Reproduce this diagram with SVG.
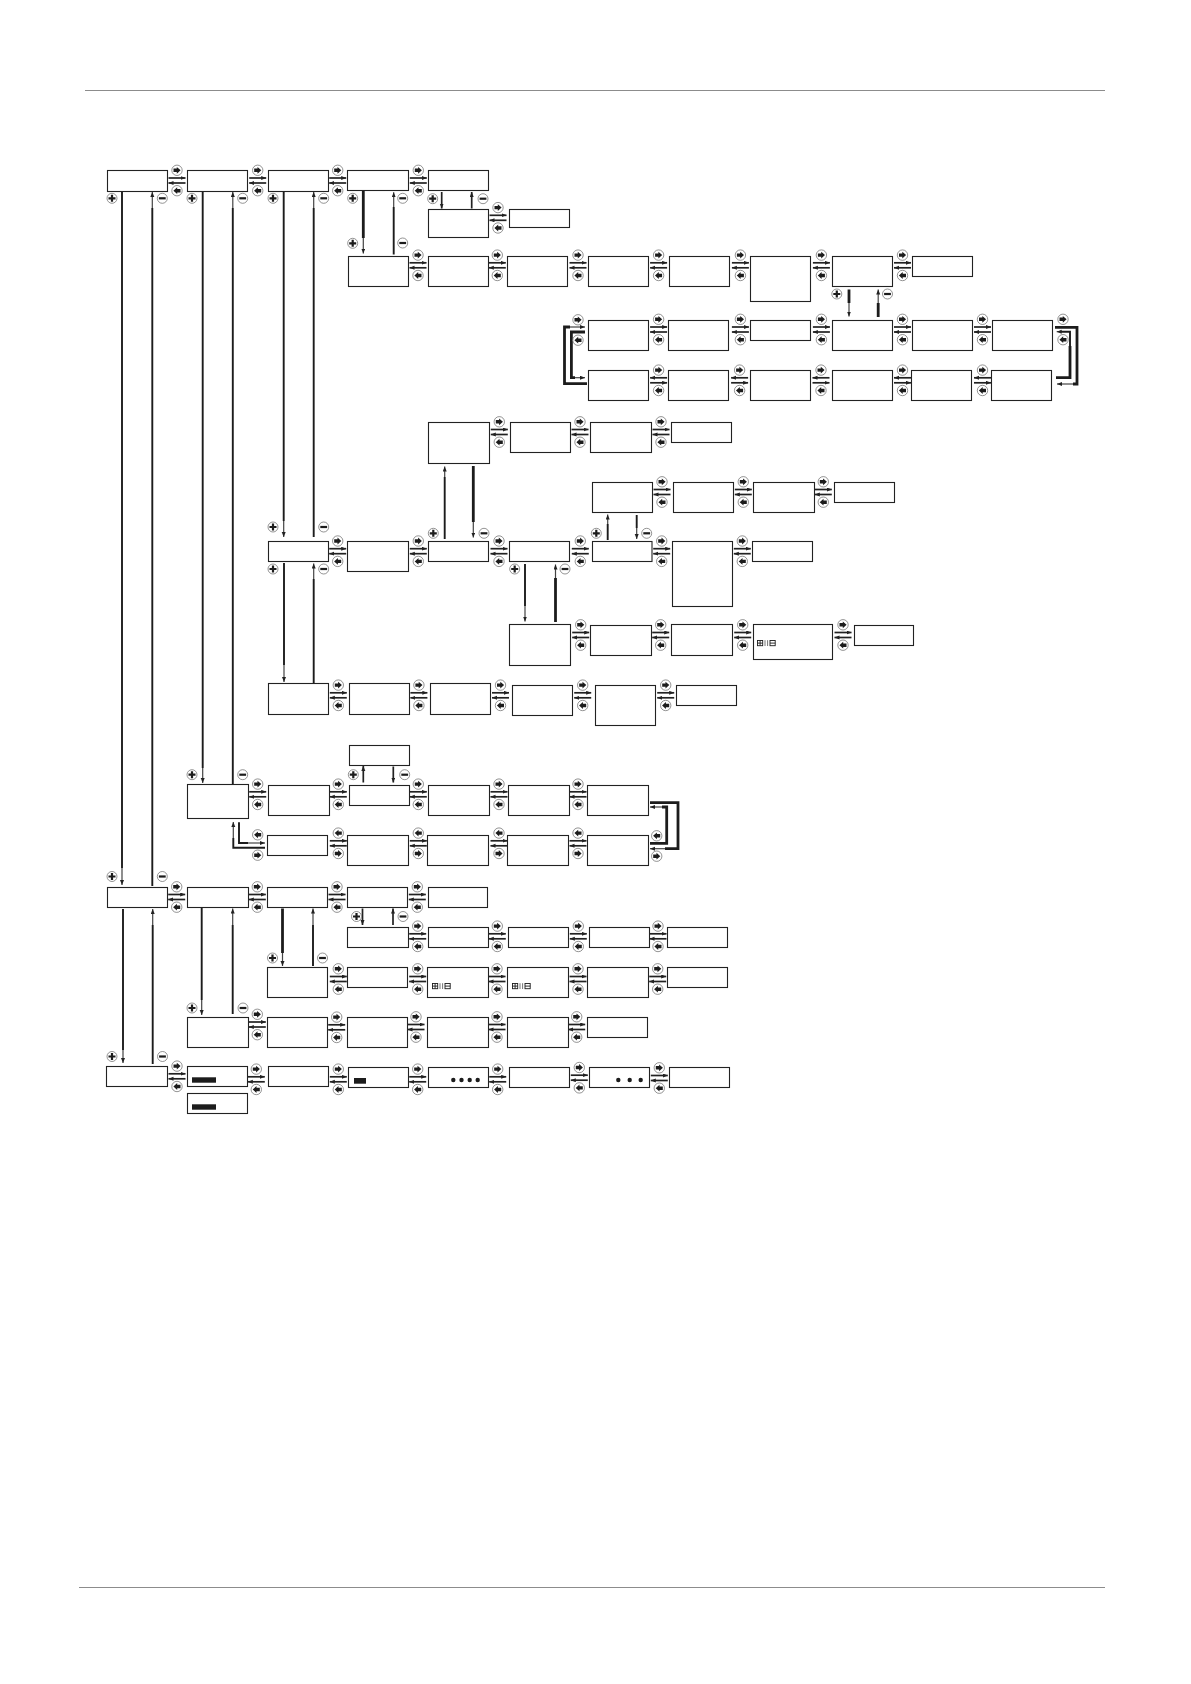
<svg xmlns="http://www.w3.org/2000/svg" width="1191" height="1684" viewBox="0 0 1191 1684">
<style>
.b{fill:#fff;stroke:#222;stroke-width:1.1}
.a{fill:none;stroke:#222;stroke-width:1.7;marker-end:url(#h)}
.k{fill:none;stroke:#1c1c1c;stroke-width:1.9}
.K{fill:none;stroke:#1c1c1c;stroke-width:2.8}
.t{fill:none;stroke:#444;stroke-width:1.2;marker-end:url(#h)}
.r{fill:#fff;stroke:#666;stroke-width:.7}
.i{fill:#1c1c1c;stroke:none}
.c{fill:none;stroke:#1c1c1c;stroke-width:.9}
.g{fill:none;stroke:#8c8c8c;stroke-width:1.2}
</style>
<defs>
<marker id="h" markerUnits="userSpaceOnUse" markerWidth="6" markerHeight="5" refX="5" refY="2" orient="auto"><path d="M0 0L5 2L0 4z" fill="#222"/></marker>
<g id="bR"><circle class="r" r="5.2"/><path class="i" d="M-3.5-1.7H-.2V-3.4L3.6 0L-.2 3.4V1.7H-3.5z"/></g>
<g id="bL"><circle class="r" r="5.2"/><path class="i" d="M3.5-1.7H.2V-3.4L-3.6 0L.2 3.4V1.7H3.5z"/></g>
<g id="plus"><circle class="r" r="5"/><path class="i" d="M-1.1-3.5H1.1V-1.1H3.5V1.1H1.1V3.5H-1.1V1.1H-3.5V-1.1H-1.1z"/></g>
<g id="minus"><circle class="r" r="5"/><rect class="i" x="-3.4" y="-1.1" width="6.8" height="2.2"/></g>
<g id="lf"><path class="a" d="M-8.5-2.5H8.5"/><path class="a" d="M8.5 2.5H-8.5"/></g>
<g id="ls"><path class="a" d="M8.5-2.5H-8.5"/><path class="a" d="M-8.5 2.5H8.5"/></g>
<g id="ic"><use href="#bR" y="-10.2"/><use href="#bL" y="10.2"/></g>
<g id="iv"><use href="#bL" y="-10.2"/><use href="#bR" y="10.2"/></g>
<g id="p"><use href="#lf"/><use href="#ic"/></g>
<g id="ps"><use href="#ls"/><use href="#ic"/></g>
<g id="pv"><use href="#lf"/><use href="#iv"/></g>
<g id="lcd"><rect class="c" x=".5" y=".5" width="5.2" height="5.2"/><path class="c" d="M.5 3.1H5.7M3.1.5V5.7"/><path d="M8 .2V6M10.6 .2V6" fill="none" stroke="#777" stroke-width="1"/><rect class="c" x="13" y=".5" width="5.2" height="5.2"/><path class="c" d="M13 3.1H18.2"/></g>
</defs>
<rect width="1191" height="1684" fill="#fff"/>
<path class="g" d="M85 90.5H1105"/>
<path class="g" d="M79 1587.5H1105"/>

<g id="connectors">
<path class="k" d="M122 191V868"/><path class="t" d="M122 868V885"/>
<path class="k" d="M152.3 886V208"/><path class="t" d="M152.3 208V192"/>
<path class="k" d="M202.7 192V768"/><path class="t" d="M202.7 768V783"/>
<path class="k" d="M232.8 784V208"/><path class="t" d="M232.8 208V192"/>
<path class="k" d="M283.7 192V521"/><path class="t" d="M283.7 521V537"/>
<path class="k" d="M313.7 537V208"/><path class="t" d="M313.7 208V192"/>
<path class="K" d="M363.3 191V238"/><path class="t" d="M363.3 238V253.5"/>
<path class="k" d="M393.7 254.5V207"/><path class="t" d="M393.7 207V192.3"/>
<path class="a" d="M441.7 192V208.5"/><path class="a" d="M471.7 208.5V192"/>
<path class="K" d="M849 289.5V303"/><path class="t" d="M849 303V316.5"/>
<path class="K" d="M878.2 317V303"/><path class="t" d="M878.2 303V289.5"/>
<path class="k" d="M284 563V665"/><path class="t" d="M284 665V682"/>
<path class="k" d="M313.7 683V579"/><path class="t" d="M313.7 579V563.5"/>
<path class="k" d="M444.7 539V477"/><path class="t" d="M444.7 477V466.5"/>
<path class="K" d="M473.3 466V522"/><path class="t" d="M473.3 522V537.5"/>
<path class="k" d="M525 564V606"/><path class="t" d="M525 606V621.5"/>
<path class="K" d="M555.5 622V578"/><path class="t" d="M555.5 578V564.5"/>
<path class="k" d="M607.7 540V524"/><path class="t" d="M607.7 524V514.5"/>
<path class="k" d="M636.7 515V528"/><path class="t" d="M636.7 528V539"/>
<path class="a" d="M363.3 782.5V766"/><path class="a" d="M393.3 766.5V782.5"/>
<path class="K" d="M282.5 908.5V953"/><path class="t" d="M282.5 953V966"/>
<path class="k" d="M313 966V925"/><path class="t" d="M313 925V908.5"/>
<path class="a" d="M362.5 908.5V925"/><path class="a" d="M393 925V908.5"/>
<path class="k" d="M201.7 908V1000"/><path class="t" d="M201.7 1000V1015"/>
<path class="k" d="M232.7 1014V925"/><path class="t" d="M232.7 925V908.5"/>
<path class="k" d="M123 909V1050"/><path class="t" d="M123 1050V1063"/>
<path class="k" d="M152.7 1064V925"/><path class="t" d="M152.7 925V909"/>
<path class="K" d="M1055 327.3H1077V384H1073"/><path class="t" d="M1073 384H1057"/>
<path class="K" d="M1056 377.7H1070V346"/><path class="k" d="M1070 346V331.7H1060"/><path class="t" d="M1060 331.7H1056.7"/>
<path class="K" d="M587 383.7H564.5V327H570"/><path class="t" d="M570 327H585"/>
<path class="K" d="M585 332H571.4V377.7H575"/><path class="t" d="M575 377.7H585"/>
<path class="K" d="M650 802.7H678V848.7H665"/><path class="t" d="M665 848.7H650"/>
<path class="K" d="M650 843.3H666.7V807H662"/><path class="t" d="M662 807H650"/>
<path class="k" d="M265 847.7H233.3V838"/><path class="t" d="M233.3 838V822"/>
<path class="k" d="M239 822.3V843H248"/><path class="t" d="M248 843H265"/>

<use href="#p" x="177" y="180.5"/><use href="#p" x="257.7" y="180.5"/><use href="#p" x="337.7" y="180.5"/><use href="#p" x="418.3" y="180.5"/>
<use href="#p" x="498" y="217.8"/>
<use href="#p" x="418" y="265.3"/><use href="#p" x="497.3" y="265.3"/><use href="#p" x="578" y="265.3"/><use href="#p" x="658.6" y="265.3"/><use href="#p" x="740.4" y="265.3"/><use href="#p" x="821.4" y="265.3"/><use href="#p" x="902.5" y="265.3"/>
<use href="#ic" x="578" y="330"/><use href="#p" x="658.6" y="329.5"/><use href="#p" x="740.4" y="329.5"/><use href="#p" x="821.4" y="329.5"/><use href="#p" x="902.5" y="329.5"/><use href="#p" x="982.5" y="329.5"/><use href="#ic" x="1063" y="329.5"/>
<use href="#ps" x="658.6" y="380.3"/><use href="#ps" x="739.6" y="380.3"/><use href="#ps" x="821" y="380.3"/><use href="#ps" x="902.5" y="380.3"/><use href="#ps" x="982.5" y="380.3"/>
<use href="#p" x="499.3" y="432"/><use href="#p" x="580" y="432"/><use href="#p" x="661" y="432"/>
<use href="#p" x="662" y="492"/><use href="#p" x="743.3" y="492"/><use href="#p" x="823.3" y="492"/>
<use href="#p" x="337.7" y="551.2"/><use href="#p" x="418.3" y="551.2"/><use href="#p" x="499" y="551.2"/><use href="#p" x="580.3" y="551.2"/><use href="#p" x="661.7" y="551.2"/><use href="#p" x="742.3" y="551.2"/>
<use href="#p" x="580.7" y="635"/><use href="#p" x="660.7" y="635"/><use href="#p" x="742.7" y="635"/><use href="#p" x="843" y="635"/>
<use href="#p" x="338.3" y="695.3"/><use href="#p" x="418.9" y="695.3"/><use href="#p" x="500.5" y="695.3"/><use href="#p" x="582.7" y="695.3"/><use href="#p" x="665.7" y="695.3"/>
<use href="#p" x="257.7" y="794.3"/><use href="#p" x="338.3" y="794.3"/><use href="#p" x="418.3" y="794.3"/><use href="#p" x="499" y="794.3"/><use href="#p" x="578" y="794.3"/>
<use href="#iv" x="257.7" y="845"/><use href="#pv" x="338.3" y="843.3"/><use href="#pv" x="418.3" y="843.3"/><use href="#pv" x="499" y="843.3"/><use href="#pv" x="578" y="843.3"/><use href="#iv" x="656.7" y="846"/>
<use href="#p" x="176.7" y="897"/><use href="#p" x="257.3" y="897"/><use href="#p" x="337" y="897"/><use href="#p" x="417.3" y="897"/>
<use href="#p" x="417.7" y="936.3"/><use href="#p" x="497.3" y="936.3"/><use href="#p" x="578.3" y="936.3"/><use href="#p" x="658" y="936.3"/>
<use href="#p" x="338.3" y="979"/><use href="#p" x="417.7" y="979"/><use href="#p" x="497" y="979"/><use href="#p" x="578" y="979"/><use href="#p" x="657.7" y="979"/>
<use href="#p" x="257.3" y="1024.5"/><use href="#p" x="336.7" y="1027.3"/><use href="#p" x="416" y="1027"/><use href="#p" x="497" y="1027"/><use href="#p" x="576.7" y="1027"/>
<use href="#p" x="177" y="1076.3"/><use href="#p" x="256.3" y="1079.3"/><use href="#p" x="338.3" y="1079.3"/><use href="#p" x="417.7" y="1079.3"/><use href="#p" x="497.7" y="1079.3"/><use href="#p" x="579.3" y="1077.7"/><use href="#p" x="659.3" y="1078"/>

<use href="#plus" x="112" y="198.3"/><use href="#minus" x="162.3" y="198.3"/>
<use href="#plus" x="192" y="198.3"/><use href="#minus" x="242.7" y="198.3"/>
<use href="#plus" x="273" y="198.3"/><use href="#minus" x="323.7" y="198.3"/>
<use href="#plus" x="352.7" y="198.3"/><use href="#minus" x="402.7" y="198.3"/>
<use href="#plus" x="432.7" y="198.7"/><use href="#minus" x="483" y="198.7"/>
<use href="#plus" x="352.7" y="243.3"/><use href="#minus" x="402.7" y="243"/>
<use href="#plus" x="836.8" y="294"/><use href="#minus" x="887.5" y="294"/>
<use href="#plus" x="273" y="527"/><use href="#minus" x="323.7" y="527"/>
<use href="#plus" x="273" y="569"/><use href="#minus" x="323.7" y="569"/>
<use href="#plus" x="433.3" y="533.3"/><use href="#minus" x="484" y="533.3"/>
<use href="#plus" x="514.7" y="569"/><use href="#minus" x="565" y="569"/>
<use href="#plus" x="596.3" y="533.3"/><use href="#minus" x="646.7" y="533.3"/>
<use href="#plus" x="353.3" y="774.7"/><use href="#minus" x="404.7" y="774.7"/>
<use href="#plus" x="192" y="774.7"/><use href="#minus" x="242.7" y="774.7"/>
<use href="#plus" x="112" y="876.5"/><use href="#minus" x="162.3" y="876.5"/>
<use href="#plus" x="356.5" y="916.5"/><use href="#minus" x="403" y="916.5"/>
<use href="#plus" x="272.5" y="958"/><use href="#minus" x="322.5" y="958"/>
<use href="#plus" x="192" y="1008"/><use href="#minus" x="243" y="1008"/>
<use href="#plus" x="112" y="1056.5"/><use href="#minus" x="162.5" y="1056.5"/>
</g>

<g id="n1"><rect class="b" x="107.5" y="170.5" width="60" height="21"/></g>
<g id="n2"><rect class="b" x="187.5" y="170.5" width="60" height="21"/></g>
<g id="n3"><rect class="b" x="268.5" y="170.5" width="60" height="21"/></g>
<g id="n4"><rect class="b" x="347.5" y="170.5" width="61" height="20"/></g>
<g id="n5"><rect class="b" x="428.5" y="170.5" width="60" height="20"/></g>
<g id="n6"><rect class="b" x="428.5" y="209.5" width="60" height="28"/></g>
<g id="n7"><rect class="b" x="509.5" y="209.5" width="60" height="18"/></g>
<g id="n8"><rect class="b" x="348.5" y="256.5" width="60" height="30"/></g>
<g id="n9"><rect class="b" x="428.5" y="256.5" width="60" height="30"/></g>
<g id="n10"><rect class="b" x="507.5" y="256.5" width="60" height="30"/></g>
<g id="n11"><rect class="b" x="588.5" y="256.5" width="60" height="30"/></g>
<g id="n12"><rect class="b" x="669.5" y="256.5" width="60" height="30"/></g>
<g id="n13"><rect class="b" x="750.5" y="256.5" width="60" height="45"/></g>
<g id="n14"><rect class="b" x="832.5" y="256.5" width="60" height="30"/></g>
<g id="n15"><rect class="b" x="912.5" y="256.5" width="60" height="20"/></g>
<g id="n16"><rect class="b" x="588.5" y="320.5" width="60" height="30"/></g>
<g id="n17"><rect class="b" x="668.5" y="320.5" width="60" height="30"/></g>
<g id="n18"><rect class="b" x="750.5" y="320.5" width="60" height="20"/></g>
<g id="n19"><rect class="b" x="832.5" y="320.5" width="60" height="30"/></g>
<g id="n20"><rect class="b" x="912.5" y="320.5" width="60" height="30"/></g>
<g id="n21"><rect class="b" x="992.5" y="320.5" width="60" height="30"/></g>
<g id="n22"><rect class="b" x="588.5" y="370.5" width="60" height="30"/></g>
<g id="n23"><rect class="b" x="668.5" y="370.5" width="60" height="30"/></g>
<g id="n24"><rect class="b" x="750.5" y="370.5" width="60" height="30"/></g>
<g id="n25"><rect class="b" x="832.5" y="370.5" width="60" height="30"/></g>
<g id="n26"><rect class="b" x="911.5" y="370.5" width="60" height="30"/></g>
<g id="n27"><rect class="b" x="991.5" y="370.5" width="60" height="30"/></g>
<g id="n28"><rect class="b" x="428.5" y="422.5" width="61" height="41"/></g>
<g id="n29"><rect class="b" x="510.5" y="422.5" width="60" height="30"/></g>
<g id="n30"><rect class="b" x="590.5" y="422.5" width="61" height="30"/></g>
<g id="n31"><rect class="b" x="671.5" y="422.5" width="60" height="20"/></g>
<g id="n32"><rect class="b" x="592.5" y="482.5" width="60" height="30"/></g>
<g id="n33"><rect class="b" x="673.5" y="482.5" width="60" height="30"/></g>
<g id="n34"><rect class="b" x="753.5" y="482.5" width="61" height="30"/></g>
<g id="n35"><rect class="b" x="834.5" y="482.5" width="60" height="20"/></g>
<g id="n36"><rect class="b" x="268.5" y="541.5" width="60" height="20"/></g>
<g id="n37"><rect class="b" x="347.5" y="541.5" width="61" height="30"/></g>
<g id="n38"><rect class="b" x="428.5" y="541.5" width="60" height="20"/></g>
<g id="n39"><rect class="b" x="509.5" y="541.5" width="60" height="20"/></g>
<g id="n40"><rect class="b" x="592.5" y="541.5" width="59.5" height="20"/></g>
<g id="n41"><rect class="b" x="672.5" y="541.5" width="60" height="65"/></g>
<g id="n42"><rect class="b" x="752.5" y="541.5" width="60" height="20"/></g>
<g id="n43"><rect class="b" x="509.5" y="624.5" width="61" height="41"/></g>
<g id="n44"><rect class="b" x="590.5" y="625.5" width="61" height="30"/></g>
<g id="n45"><rect class="b" x="671.5" y="624.5" width="61" height="31"/></g>
<g id="n46"><rect class="b" x="753.5" y="624.5" width="79" height="35"/><use href="#lcd" x="757" y="640"/></g>
<g id="n47"><rect class="b" x="854.5" y="625.5" width="59" height="20"/></g>
<g id="n48"><rect class="b" x="268.5" y="683.5" width="60" height="31"/></g>
<g id="n49"><rect class="b" x="349.5" y="683.5" width="60" height="31"/></g>
<g id="n50"><rect class="b" x="430.5" y="683.5" width="60" height="31"/></g>
<g id="n51"><rect class="b" x="512.5" y="685.5" width="60" height="30"/></g>
<g id="n52"><rect class="b" x="595.5" y="685.5" width="60" height="40"/></g>
<g id="n53"><rect class="b" x="676.5" y="685.5" width="60" height="20"/></g>
<g id="n54"><rect class="b" x="349.5" y="745.5" width="60" height="20"/></g>
<g id="n55"><rect class="b" x="187.5" y="784.5" width="61" height="34"/></g>
<g id="n56"><rect class="b" x="268.5" y="785.5" width="61" height="30"/></g>
<g id="n57"><rect class="b" x="349.5" y="785.5" width="60" height="20"/></g>
<g id="n58"><rect class="b" x="428.5" y="785.5" width="61" height="30"/></g>
<g id="n59"><rect class="b" x="508.5" y="785.5" width="61" height="30"/></g>
<g id="n60"><rect class="b" x="587.5" y="785.5" width="61" height="30"/></g>
<g id="n61"><rect class="b" x="267.5" y="835.5" width="60" height="20"/></g>
<g id="n62"><rect class="b" x="347.5" y="835.5" width="61" height="30"/></g>
<g id="n63"><rect class="b" x="427.5" y="835.5" width="61" height="30"/></g>
<g id="n64"><rect class="b" x="507.5" y="835.5" width="61" height="30"/></g>
<g id="n65"><rect class="b" x="587.5" y="835.5" width="61" height="30"/></g>
<g id="n66"><rect class="b" x="107.5" y="887.5" width="60" height="20"/></g>
<g id="n67"><rect class="b" x="187.5" y="887.5" width="61" height="20"/></g>
<g id="n68"><rect class="b" x="267.5" y="887.5" width="60" height="20"/></g>
<g id="n69"><rect class="b" x="347.5" y="887.5" width="60" height="20"/></g>
<g id="n70"><rect class="b" x="428.5" y="887.5" width="59" height="20"/></g>
<g id="n71"><rect class="b" x="347.5" y="927.5" width="61" height="20"/></g>
<g id="n72"><rect class="b" x="428.5" y="927.5" width="60" height="20"/></g>
<g id="n73"><rect class="b" x="508.5" y="927.5" width="60" height="20"/></g>
<g id="n74"><rect class="b" x="589.5" y="927.5" width="60" height="20"/></g>
<g id="n75"><rect class="b" x="667.5" y="927.5" width="60" height="20"/></g>
<g id="n76"><rect class="b" x="267.5" y="967.5" width="60" height="30"/></g>
<g id="n77"><rect class="b" x="347.5" y="967.5" width="60" height="20"/></g>
<g id="n78"><rect class="b" x="427.5" y="967.5" width="61" height="30"/><use href="#lcd" x="432" y="983"/></g>
<g id="n79"><rect class="b" x="507.5" y="967.5" width="61" height="30"/><use href="#lcd" x="512" y="983"/></g>
<g id="n80"><rect class="b" x="587.5" y="967.5" width="61" height="30"/></g>
<g id="n81"><rect class="b" x="667.5" y="967.5" width="60" height="20"/></g>
<g id="n82"><rect class="b" x="187.5" y="1017.5" width="61" height="30"/></g>
<g id="n83"><rect class="b" x="267.5" y="1017.5" width="60" height="30"/></g>
<g id="n84"><rect class="b" x="347.5" y="1017.5" width="60" height="30"/></g>
<g id="n85"><rect class="b" x="427.5" y="1017.5" width="61" height="30"/></g>
<g id="n86"><rect class="b" x="507.5" y="1017.5" width="61" height="30"/></g>
<g id="n87"><rect class="b" x="587.5" y="1017.5" width="60" height="20"/></g>
<g id="n88"><rect class="b" x="106.5" y="1066.5" width="61" height="20"/></g>
<g id="n89"><rect class="b" x="187.5" y="1066.5" width="60" height="20"/><rect class="i" x="192" y="1077.3" width="24" height="5.4"/></g>
<g id="n90"><rect class="b" x="187.5" y="1093.5" width="60" height="20"/><rect class="i" x="192" y="1104.3" width="24" height="5.4"/></g>
<g id="n91"><rect class="b" x="268.5" y="1066.5" width="60" height="20"/></g>
<g id="n92"><rect class="b" x="348.5" y="1067.5" width="60" height="20"/><rect class="i" x="354" y="1078" width="12" height="5.7"/></g>
<g id="n93"><rect class="b" x="428.5" y="1067.5" width="60" height="20"/><circle class="i" cx="453.3" cy="1080" r="2.2"/><circle class="i" cx="461.5" cy="1080" r="2.2"/><circle class="i" cx="469.7" cy="1080" r="2.2"/><circle class="i" cx="477.7" cy="1080" r="2.2"/></g>
<g id="n94"><rect class="b" x="509.5" y="1067.5" width="60" height="20"/></g>
<g id="n95"><rect class="b" x="589.5" y="1067.5" width="60" height="20"/><circle class="i" cx="618.3" cy="1080" r="2.2"/><circle class="i" cx="629.7" cy="1080" r="2.2"/><circle class="i" cx="640.7" cy="1080" r="2.2"/></g>
<g id="n96"><rect class="b" x="669.5" y="1067.5" width="60" height="20"/></g>
</svg>
